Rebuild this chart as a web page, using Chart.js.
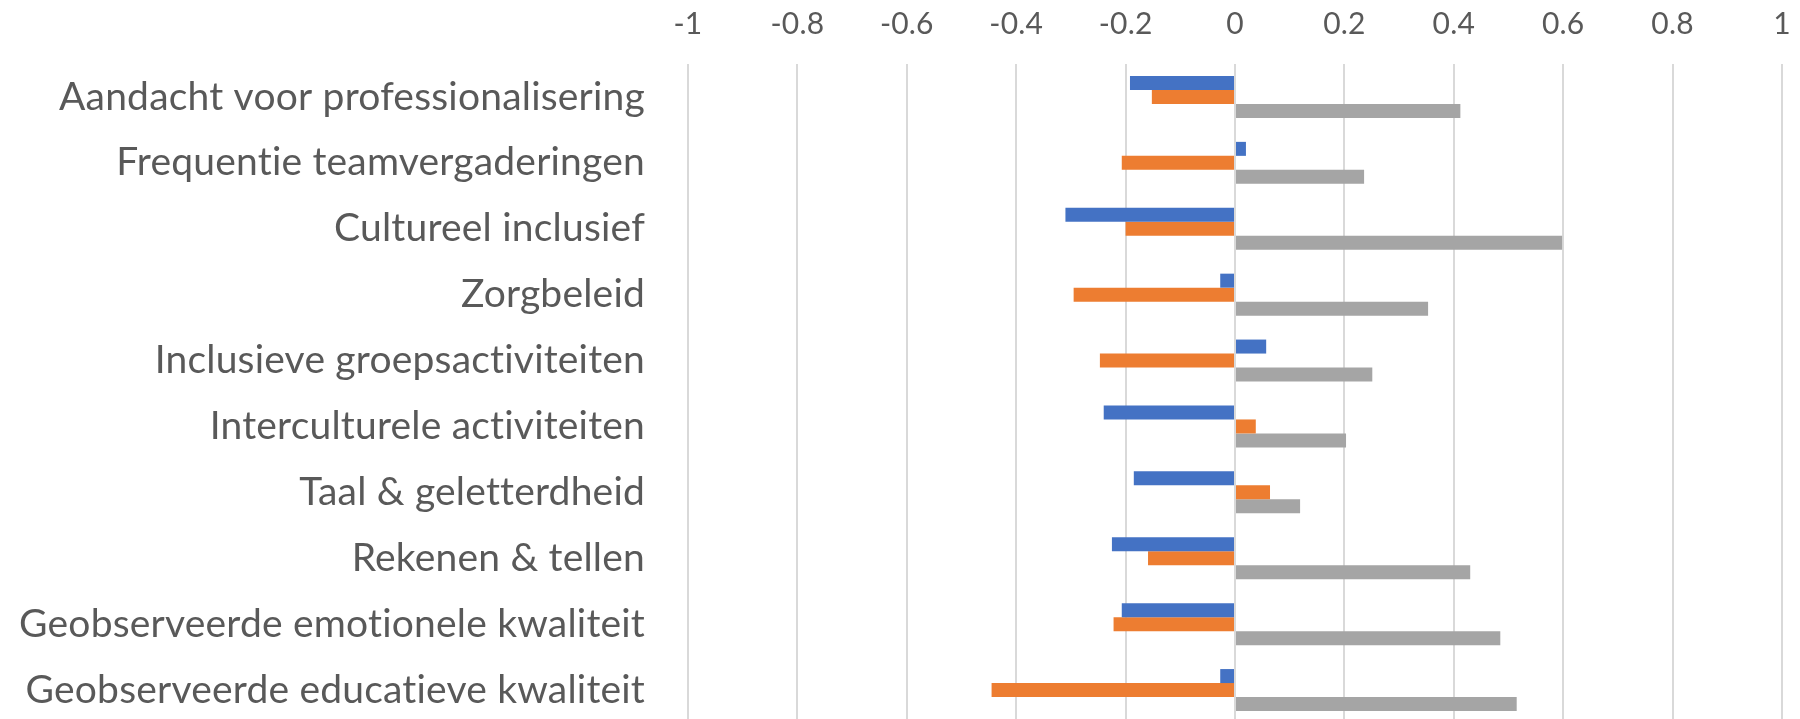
<!DOCTYPE html>
<html>
<head>
<meta charset="utf-8">
<script src="https://cdn.jsdelivr.net/npm/chart.js@4/dist/chart.umd.min.js"></script>
<style>
  html, body { margin: 0; padding: 0; background: #fff; overflow: hidden; }
  #chart { display: block; }
</style>
</head>
<body>
<canvas id="chart" width="1800" height="724"></canvas>
<script>
const categories = [
  "Aandacht voor professionalisering",
  "Frequentie teamvergaderingen",
  "Cultureel inclusief",
  "Zorgbeleid",
  "Inclusieve groepsactiviteiten",
  "Interculturele activiteiten",
  "Taal & geletterdheid",
  "Rekenen & tellen",
  "Geobserveerde emotionele kwaliteit",
  "Geobserveerde educatieve kwaliteit"
];

// three series (top bar = blue, middle = orange, bottom = gray)
const blueValues = [-0.192, 0.020, -0.310, -0.027, 0.057, -0.240, -0.185, -0.225, -0.207, -0.027];
const orangeValues = [-0.152, -0.207, -0.200, -0.295, -0.247, 0.038, 0.064, -0.159, -0.222, -0.445];
const grayValues = [0.412, 0.236, 0.598, 0.353, 0.251, 0.203, 0.119, 0.430, 0.485, 0.515];

const xTicks = [-1, -0.8, -0.6, -0.4, -0.2, 0, 0.2, 0.4, 0.6, 0.8, 1];

const textColor = "#595959";

// Calibri has no "ti" ligature here, Lato does; a tiny letter spacing turns it off
const noLigatures = {
  id: "noLigatures",
  beforeDraw(chart) {
    chart.ctx.letterSpacing = "0.2px";
  }
};

const data = {
  labels: categories,
  datasets: [
    { label: "Serie 1", data: blueValues, backgroundColor: "#4472C4" },
    { label: "Serie 2", data: orangeValues, backgroundColor: "#ED7D31" },
    { label: "Serie 3", data: grayValues, backgroundColor: "#A5A5A5" }
  ]
};

const config = {
  type: "bar",
  data: data,
  plugins: [noLigatures],
  options: {
    indexAxis: "y",
    responsive: false,
    animation: false,
    layout: {
      padding: { top: 0, right: 18, bottom: 1, left: 0 }
    },
    datasets: {
      bar: {
        categoryPercentage: 0.637,
        barPercentage: 1.0
      }
    },
    plugins: {
      legend: { display: false },
      tooltip: { enabled: false },
      title: { display: false }
    },
    scales: {
      x: {
        type: "linear",
        position: "top",
        min: -1,
        max: 1,
        afterBuildTicks: (scale) => {
          scale.ticks = xTicks.map(v => ({ value: v }));
        },
        afterFit: (scale) => {
          scale.height = 64;
          scale.paddingLeft = 0;
          scale.paddingRight = 0;
        },
        ticks: {
          color: textColor,
          font: { family: "Lato", size: 30 },
          padding: 22,
          callback: (v) => String(v)
        },
        grid: {
          color: "#D9D9D9",
          lineWidth: 2,
          drawTicks: false
        },
        border: { display: false }
      },
      y: {
        type: "category",
        position: "left",
        afterFit: (scale) => {
          scale.width = 688;
          scale.paddingTop = 0;
          scale.paddingBottom = 0;
        },
        ticks: {
          color: textColor,
          font: { family: "Lato", size: 39 },
          padding: 43,
          autoSkip: false
        },
        grid: { display: false, drawTicks: false },
        border: { display: false }
      }
    }
  }
};

const myChart = new Chart(document.getElementById("chart"), config);
</script>
</body>
</html>
